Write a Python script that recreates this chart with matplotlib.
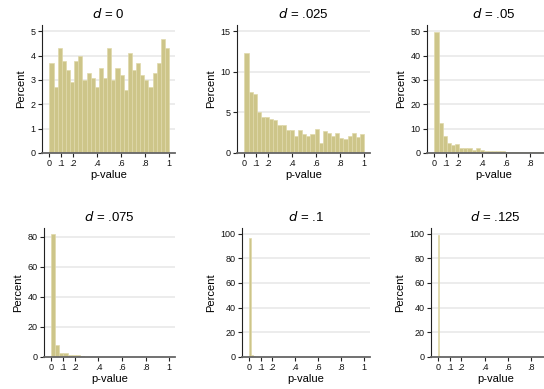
import numpy as np
import matplotlib
matplotlib.use("Agg")
import matplotlib.pyplot as plt

plt.rcParams['font.family'] = ['Liberation Sans', 'DejaVu Sans']

# percent of p-values per histogram bin
pct_d0 = [3.7, 2.7, 4.3, 3.8, 3.4, 2.9, 3.8, 4.0, 3.0, 3.3,
          3.1, 2.7, 3.5, 3.1, 4.3, 3.0, 3.5, 3.2, 2.6, 4.1,
          3.4, 3.7, 3.2, 3.0, 2.7, 3.3, 3.7, 4.7, 4.3]
pct_d025 = [12.4, 7.5, 7.3, 5.0, 4.5, 4.4, 4.2, 4.1, 3.4, 3.5,
            2.9, 2.9, 2.1, 2.8, 2.3, 2.1, 2.3, 3.0, 1.2, 2.7,
            2.5, 2.1, 2.5, 1.9, 1.7, 2.1, 2.5, 2.0, 2.3]
pct_d05 = [49.7, 12.2, 6.9, 4.3, 3.2, 3.6, 2.2, 2.2, 1.9, 1.3,
           1.9, 1.3, 0.8, 0.7, 0.7, 1.0, 0.7, 0.6, 0.6, 0.3,
           0.6, 0.6, 0.6, 0.6, 0.5, 0.3, 0.3, 0.6, 0.4]
pct_d075 = [81.8, 7.8, 2.9, 2.9, 1.6, 1.1, 1.0, 0.5, 0.3, 0.2,
            0.2, 0.1, 0.2, 0.3, 0.2, 0.2, 0.3, 0.1, 0.2, 0.3,
            0.1, 0.1, 0.1, 0.2, 0.1, 0.1, 0.3, 0.1, 0.1]
pct_d1 = [96.4, 1.9, 0.6, 0.3, 0.2, 0.1, 0.1, 0.05, 0.05, 0.0,
          0.0, 0.0, 0.0, 0.0, 0.0, 0.0, 0.0, 0.0, 0.0, 0.0,
          0.0, 0.0, 0.0, 0.0, 0.0, 0.0, 0.1, 0.0, 0.05]
pct_d125 = [98.6, 0.7, 0.3, 0.2, 0.1, 0.1, 0.0, 0.0, 0.0, 0.0,
            0.0, 0.0, 0.0, 0.0, 0.0, 0.0, 0.0, 0.0, 0.0, 0.0,
            0.0, 0.0, 0.0, 0.0, 0.0, 0.0, 0.0, 0.0, 0.0]

titles = ["0", ".025", ".05", ".075", ".1", ".125"]
series = [pct_d0, pct_d025, pct_d05, pct_d075, pct_d1, pct_d125]
bin_widths = [1 / 29, 1 / 29, 1 / 29, 1 / 29, 0.016, 0.0095]
y_ticks = [[0, 1, 2, 3, 4, 5], [0, 5, 10, 15], [0, 10, 20, 30, 40, 50],
           [0, 20, 40, 60, 80], [0, 20, 40, 60, 80, 100], [0, 20, 40, 60, 80, 100]]
y_tops = [5.26, 15.8, 52.6, 85.8, 104.5, 104.5]
x_ticks = [0, .1, .2, .4, .6, .8, 1]
x_labels = ["0", ".1", ".2", ".4", ".6", ".8", "1"]

W, H = 544, 389
fig = plt.figure(figsize=(W / 100, H / 100), dpi=100)

# axes boxes in pixels: left, top, width, height
boxes = [(42, 25, 133, 128), (237, 25, 133, 128), (427, 25, 133, 128),
         (44, 228, 131, 129), (242, 228, 128, 129), (431, 228, 129, 129)]

bar_face = "#cdc589"
bar_edge = "#e0d9ab"

for i in range(6):
    l, t, w, h = boxes[i]
    ax = fig.add_axes([l / W, 1 - (t + h) / H, w / W, h / H])
    vals = np.array(series[i])
    lefts = np.arange(len(vals)) * bin_widths[i]
    ax.bar(lefts, vals, width=bin_widths[i], align='edge',
           color=bar_face, edgecolor=bar_edge, linewidth=0.5, zorder=2)
    ax.set_xlim(-0.062, 1.05)
    ax.set_ylim(0, y_tops[i])
    ax.set_yticks(y_ticks[i])
    # the right-hand panels run past the figure edge, so no "1" there
    n = 6 if i in (2, 5) else 7
    ax.set_xticks(x_ticks[:n])
    ax.set_xticklabels(x_labels[:n])
    for yv in y_ticks[i][1:]:
        ax.axhline(yv, color="#ebebeb", linewidth=1.3, zorder=1)
    ax.spines['top'].set_visible(False)
    ax.spines['right'].set_visible(False)
    ax.spines['left'].set_color("#222222")
    ax.spines['left'].set_linewidth(0.8)
    ax.spines['bottom'].set_color("#666666")
    ax.spines['bottom'].set_linewidth(1.3)
    ax.tick_params(axis='both', labelsize=6.5, length=3, width=0.8,
                   color="#222222", pad=1.5, labelcolor="#111111")
    ax.set_ylabel("Percent", fontsize=8, labelpad=3)
    ax.set_xlabel("p-value", fontsize=8, labelpad=1)
    ax.set_title("$d$ = " + titles[i], fontsize=9.5, pad=5)

fig.savefig("out.png", dpi=100)
